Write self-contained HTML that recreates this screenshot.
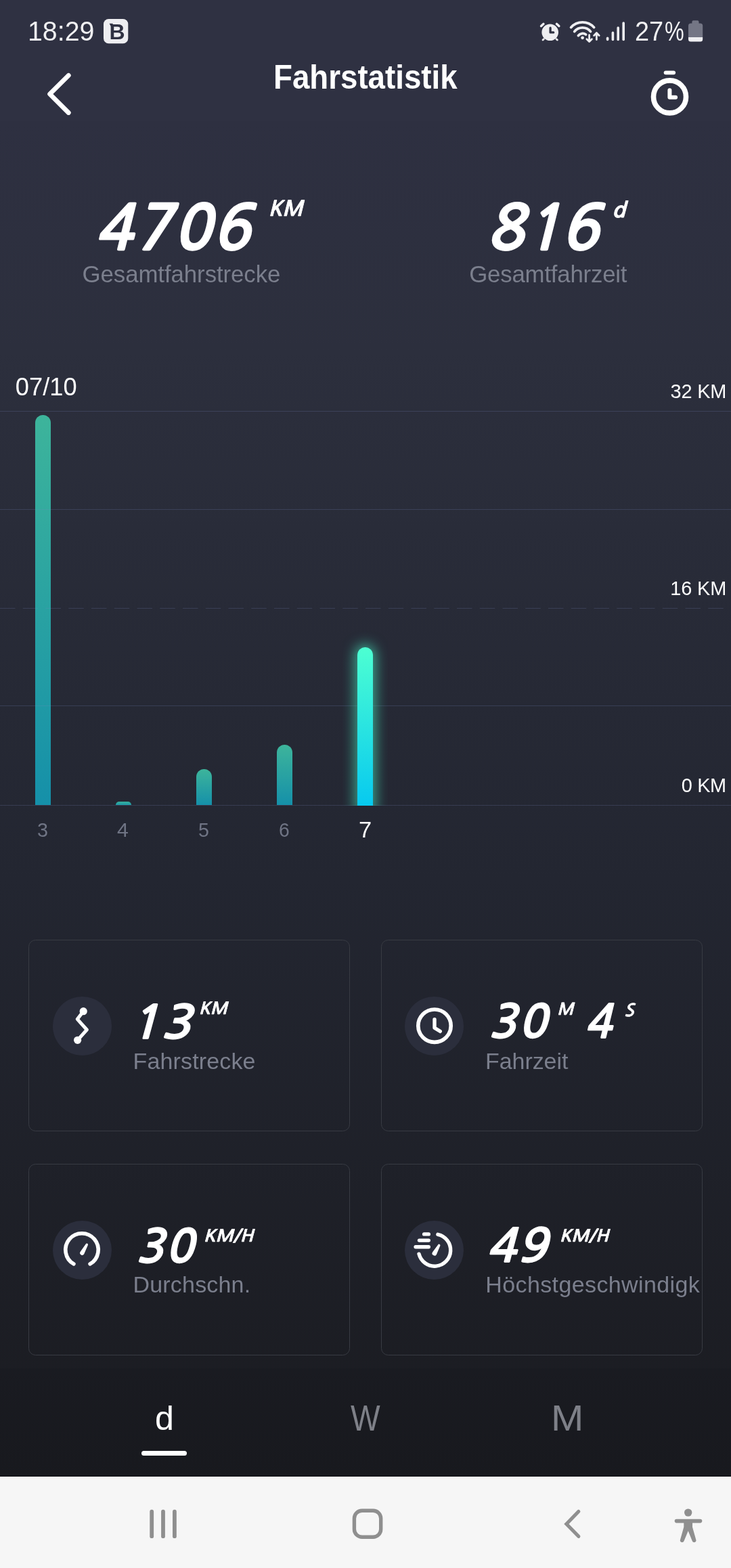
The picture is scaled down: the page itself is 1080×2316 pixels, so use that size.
<!DOCTYPE html>
<html lang="de">
<head>
<meta charset="utf-8">
<title>Fahrstatistik</title>
<style>
html,body{margin:0;padding:0;}
body{width:1080px;height:2316px;position:relative;overflow:hidden;background:#f6f6f6;
  font-family:"Liberation Sans",sans-serif;color:#fff;}
#app{position:absolute;left:0;top:0;width:1080px;height:2181px;
  background:linear-gradient(180deg,#2f3142 0px,#2f3142 178px,#2e3041 178px,rgb(44,47,61) 520px,rgb(35,38,49) 1300px,rgb(26,27,32) 2181px);overflow:hidden;}
.t{position:absolute;white-space:nowrap;line-height:1;margin:0;transform-origin:0 0;}
.abs{position:absolute;}
.num{font-family:"NanumGothic","Liberation Sans",sans-serif;font-weight:bold;font-style:italic;color:#fff;}
.unit{font-family:"NanumGothic","Liberation Sans",sans-serif;font-weight:bold;font-style:italic;color:#fff;}
.lbl{color:#7b7f8d;}
.grid{position:absolute;left:0;width:1080px;height:1px;background:rgba(125,135,195,0.22);}
.ylab{color:#fff;}
.xlab{color:#6f7484;}
.bar{position:absolute;width:23px;border-radius:11.5px 11.5px 0 0;}
.card{position:absolute;box-sizing:border-box;width:475px;height:283px;border:1px solid #383b43;border-radius:10.5px;}
.ico{position:absolute;width:87px;height:87px;border-radius:50%;background:#2b2e3c;}
.tab{color:#7e8088;}
#nav{position:absolute;left:0;top:2181px;width:1080px;height:135px;background:#f6f6f6;}
#icons{position:absolute;left:0;top:0;}
#n1,#n2{-webkit-text-stroke:1.8px #fff;}
#c1n,#c2n,#c2n2,#c3n,#c4n{-webkit-text-stroke:1.3px #fff;}
#u1,#u2{-webkit-text-stroke:0.8px #fff;}
#c1u,#c2u,#c2u2,#c3u,#c4u{-webkit-text-stroke:0.6px #fff;}
#time{left:41.25px;top:26px;font-size:40.38px;transform:scaleX(0.9738);}
#batt{left:937.50px;top:26px;font-size:40.72px;transform:scaleX(0.9321);}
#title{left:404.00px;top:90px;font-size:49.07px;transform:scaleX(0.9311);}
#n1{left:140.50px;top:292px;font-size:91.60px;letter-spacing:2.360px;}
#u1{left:396.50px;top:293px;font-size:31.12px;transform:scaleX(0.9978);}
#l1{left:121.50px;top:388px;font-size:34.82px;letter-spacing:-0.073px;}
#n2{left:718.75px;top:292px;font-size:91.60px;letter-spacing:-0.334px;}
#u2{left:904.00px;top:296px;font-size:30.29px;transform:scaleX(1.0858);}
#l2{left:693.25px;top:388px;font-size:34.82px;letter-spacing:-0.213px;}
#date{left:22.75px;top:554px;font-size:36.22px;letter-spacing:0.046px;}
#y32{left:990.50px;top:564px;font-size:28.93px;letter-spacing:-0.180px;}
#y16{left:990.25px;top:855px;font-size:28.93px;letter-spacing:-0.133px;}
#y0{left:1006.75px;top:1146px;font-size:28.93px;letter-spacing:-0.357px;}
#x3{left:54.75px;top:1212px;font-size:28.59px;transform:scaleX(1.0073);}
#x4{left:173.25px;top:1211px;font-size:29.30px;transform:scaleX(1.0331);}
#x5{left:293.25px;top:1212px;font-size:28.94px;transform:scaleX(0.9877);}
#x6{left:412.25px;top:1212px;font-size:28.59px;transform:scaleX(0.9904);}
#x7{left:529.50px;top:1210px;font-size:32.52px;transform:scaleX(1.0615);}
#c1n{left:191.25px;top:1477px;font-size:67.90px;letter-spacing:2.000px;transform:scaleX(1.0860);}
#c1u{left:294.00px;top:1478px;font-size:24.91px;transform:scaleX(1.0391);}
#c1l{left:196.50px;top:1550px;font-size:34.03px;letter-spacing:0.136px;}
#c2n{left:722.00px;top:1476px;font-size:67.90px;letter-spacing:3.107px;}
#c2u{left:823.00px;top:1479px;font-size:24.20px;transform:scaleX(1.0261);}
#c2n2{left:863.50px;top:1476px;font-size:67.90px;transform:scaleX(0.9636);}
#c2u2{left:922.25px;top:1480px;font-size:25.15px;transform:scaleX(1.0637);}
#c2l{left:717.00px;top:1550px;font-size:34.03px;letter-spacing:-0.065px;}
#c3n{left:201.00px;top:1808px;font-size:67.90px;letter-spacing:2.399px;}
#c3u{left:301.25px;top:1814px;font-size:24.91px;transform:scaleX(1.0831);}
#c3l{left:196.50px;top:1880px;font-size:34.03px;letter-spacing:0.180px;}
#c4n{left:719.25px;top:1807px;font-size:67.90px;letter-spacing:2.000px;transform:scaleX(1.0538);}
#c4u{left:827.25px;top:1814px;font-size:24.91px;transform:scaleX(1.0684);}
#c4l{left:717.25px;top:1880px;font-size:34.03px;letter-spacing:0.381px;width:317.25px;overflow:hidden;padding-bottom:12px;}
#td{left:228.75px;top:2070px;font-size:50.47px;transform:scaleX(0.9947);}
#tw{left:517.75px;top:2068px;font-size:53.60px;transform:scaleX(0.8628);}
#tm{left:813.50px;top:2068px;font-size:53.60px;transform:scaleX(1.0827);}
#battp{left:981.75px;top:26px;font-size:40.72px;transform:scaleX(0.7926);}
</style>
</head>
<body>
<div id="app">

<!-- status bar -->
<div class="t" id="time" style="color:#f0f0f2;">18:29</div>
<div class="t" id="batt" style="color:#f0f0f2;">27</div><div class="t" id="battp" style="color:#f0f0f2;">%</div>

<!-- header -->
<div class="t" id="title" style="font-weight:bold;">Fahrstatistik</div>

<!-- totals -->
<div class="t num" id="n1">4706</div>
<div class="t unit" id="u1">KM</div>
<div class="t lbl" id="l1">Gesamtfahrstrecke</div>
<div class="t num" id="n2">816</div>
<div class="t unit" id="u2">d</div>
<div class="t lbl" id="l2">Gesamtfahrzeit</div>

<!-- chart -->
<div class="t" id="date">07/10</div>
<div class="t ylab" id="y32">32 KM</div>
<div class="t ylab" id="y16">16 KM</div>
<div class="t ylab" id="y0">0 KM</div>

<div class="bar" style="left:52px;top:613px;height:576px;background:linear-gradient(180deg,#3db49b,#1590a9);"></div>
<div class="bar" style="left:171px;top:1184px;height:5px;border-radius:5px 5px 0 0;background:linear-gradient(180deg,#38ad9b,#1d9ba8);"></div>
<div class="bar" style="left:290px;top:1136px;height:53px;background:linear-gradient(180deg,#3db49b,#1590a9);"></div>
<div class="bar" style="left:409px;top:1100px;height:89px;background:linear-gradient(180deg,#3db49b,#1590a9);"></div>
<div class="grid" style="top:607px"></div>
<div class="grid" style="top:752px"></div>
<div class="grid" style="top:1042px"></div>
<div class="grid" style="top:1189px"></div>
<svg class="abs" style="left:0;top:897px" width="1080" height="3"><line x1="0" y1="1.5" x2="1080" y2="1.5" stroke="rgba(125,135,195,0.22)" stroke-width="1" stroke-dasharray="22.5 11.25"/></svg>
<div class="abs" style="left:506px;top:920px;width:67px;height:270px;overflow:hidden;">
  <div class="bar" style="left:22px;top:36px;height:240px;background:linear-gradient(180deg,#4dffd2,#05c8f0);box-shadow:0 0 18px 5px rgba(70,230,190,0.6);"></div>
</div>

<div class="t xlab" id="x3">3</div>
<div class="t xlab" id="x4">4</div>
<div class="t xlab" id="x5">5</div>
<div class="t xlab" id="x6">6</div>
<div class="t xlab" id="x7" style="color:#fff;">7</div>

<!-- cards -->
<div class="card" style="left:42px;top:1388px"></div>
<div class="card" style="left:563px;top:1388px"></div>
<div class="card" style="left:42px;top:1719px"></div>
<div class="card" style="left:563px;top:1719px"></div>

<div class="ico" style="left:77.7px;top:1471.5px"></div>
<div class="ico" style="left:598.2px;top:1471.5px"></div>
<div class="ico" style="left:77.7px;top:1802.5px"></div>
<div class="ico" style="left:598.2px;top:1802.5px"></div>

<div class="t num" id="c1n">13</div>
<div class="t unit" id="c1u">KM</div>
<div class="t lbl" id="c1l">Fahrstrecke</div>

<div class="t num" id="c2n">30</div>
<div class="t unit" id="c2u">M</div>
<div class="t num" id="c2n2">4</div>
<div class="t unit" id="c2u2">S</div>
<div class="t lbl" id="c2l">Fahrzeit</div>

<div class="t num" id="c3n">30</div>
<div class="t unit" id="c3u">KM/H</div>
<div class="t lbl" id="c3l">Durchschn.</div>

<div class="t num" id="c4n">49</div>
<div class="t unit" id="c4u">KM/H</div>
<div class="t lbl" id="c4l">Höchstgeschwindigk<span class="rest">eit</span></div>

<!-- tabs -->
<div class="abs" style="left:0;top:2021px;width:1080px;height:160px;background:rgba(0,0,0,0.05);"></div>
<div class="t tab" id="td" style="color:#fff;">d</div>
<div class="t tab" id="tw">W</div>
<div class="t tab" id="tm">M</div>
<div class="abs" style="left:209px;top:2142.5px;width:67px;height:7.5px;border-radius:4px;background:#fff;"></div>
<div class="abs" style="left:0;top:2180px;width:1080px;height:1px;background:#0f0f13;"></div>
</div>

<div id="nav"></div>
<svg id="icons" width="1080" height="2316" viewBox="0 0 1080 2316">
<!-- status: B badge -->
<rect x="153" y="28" width="36.3" height="36.3" rx="7.5" fill="#eeeef1"/>
<text x="173.1" y="57.7" text-anchor="middle" font-family="Liberation Sans, sans-serif" font-weight="bold" font-size="32" fill="#2f3142">B</text>
<path d="M161.6 34.8h5v3.6h-3z" fill="#2f3142"/>
<!-- alarm -->
<g fill="#eeeef1" stroke="none">
<circle cx="812.7" cy="47.8" r="12.3"/>
</g>
<g stroke="#eeeef1" stroke-width="4" stroke-linecap="round" fill="none">
<path d="M799.5 38.5L803.0 35.3" stroke-width="3.4"/><path d="M822.4 35.3L825.9 38.5" stroke-width="3.4"/>
<path d="M802.0 59.1L803.4 57.7" stroke-width="2.8"/><path d="M822.0 57.7L823.4 59.1" stroke-width="2.8"/>
</g>
<path d="M813.1 41.2V47.9H817.7" stroke="#2f3142" stroke-width="3.3" stroke-linecap="round" stroke-linejoin="round" fill="none"/>
<!-- wifi -->
<g stroke="#eeeef1" stroke-width="3.8" stroke-linecap="round" fill="none">
<path d="M843.6 40.4A22.8 22.8 0 0 1 877.6 40.4"/>
<path d="M848.7 46.6A15.2 15.2 0 0 1 872.5 46.6"/>
<path d="M854.4 52.6A8.2 8.2 0 0 1 865.6 51.0"/>
</g>
<circle cx="860.6" cy="55.8" r="2.4" fill="#eeeef1"/>
<g stroke="#eeeef1" stroke-width="2.8" stroke-linecap="round" stroke-linejoin="round" fill="none">
<path d="M870.6 51.6V61.2M866.8 57.8L870.6 61.6L874.4 57.8"/>
<path d="M881.4 58.6V49M877.6 52.4L881.4 48.6L885.2 52.4"/>
</g>
<!-- signal -->
<g stroke="#eeeef1" stroke-width="3.6" stroke-linecap="round" fill="none">
<path d="M897.6 56.2V58.4"/><path d="M905.4 48.4V58.4"/><path d="M913.2 41V58.4"/><path d="M921.2 34.1V58.4"/>
</g>
<!-- battery -->
<path d="M1022.4 34.4V32.3a2 2 0 0 1 2-2h6.1a2 2 0 0 1 2 2v2.1h2.2a3.5 3.5 0 0 1 3.5 3.5v17H1017v-17a3.5 3.5 0 0 1 3.5-3.5z" fill="#747685"/>
<path d="M1017 54.9h21.2v3a3.5 3.5 0 0 1-3.5 3.5h-14.2a3.5 3.5 0 0 1-3.5-3.5z" fill="#eeeef1"/>
<!-- header back -->
<path d="M101.3 111.3L73.6 138.9L101.3 166.5" stroke="#fff" stroke-width="6.8" stroke-linecap="round" stroke-linejoin="round" fill="none"/>
<!-- header timer -->
<circle cx="989.5" cy="142.9" r="24" stroke="#fff" stroke-width="7.6" fill="none"/>
<rect x="980.7" y="104.4" width="17.4" height="5.8" rx="2.9" fill="#fff"/>
<path d="M989.4 133.3V143.7H998.1" stroke="#fff" stroke-width="6" stroke-linecap="round" stroke-linejoin="round" fill="none"/>
<!-- card icon 1: route -->
<path d="M123.2 1493.7L114.3 1505.3L128.3 1521L114.6 1536.3" stroke="#fff" stroke-width="5" stroke-linecap="round" stroke-linejoin="round" fill="none"/>
<circle cx="123.2" cy="1493.7" r="5.6" fill="#fff"/><circle cx="114.6" cy="1536.3" r="5.6" fill="#fff"/>
<!-- card icon 2: clock -->
<circle cx="642" cy="1515.2" r="24.2" stroke="#fff" stroke-width="5.6" fill="none"/>
<path d="M642 1505.7V1518.2L650.3 1523.3" stroke="#fff" stroke-width="5.4" stroke-linecap="round" stroke-linejoin="round" fill="none"/>
<!-- card icon 3: speedometer -->
<path d="M108.9 1866.9A24.2 24.2 0 1 1 133.1 1866.9" stroke="#fff" stroke-width="5.6" stroke-linecap="round" fill="none"/>
<path d="M118.6 1849.0L126.9 1837.2A1.75 1.75 0 0 1 129.9 1838.9L124.2 1852.2A3.2 3.2 0 0 1 118.6 1849.0Z" fill="#fff"/>
<!-- card icon 4: top speed -->
<path d="M646.9 1823.3A23.7 23.7 0 1 1 619.0 1852.2" stroke="#fff" stroke-width="5.4" stroke-linecap="round" fill="none"/>
<g stroke="#fff" stroke-width="5.4" stroke-linecap="round"><path d="M626.6 1822.9H633.3"/><path d="M619.5 1832.1H633.3"/><path d="M614.1 1841.8H633.3"/></g>
<path d="M639.0 1849.4L647.2 1838.5A1.75 1.75 0 0 1 650.2 1840.3L644.9 1852.9A3.4 3.4 0 0 1 639.0 1849.4Z" fill="#fff"/>
<!-- nav bar -->
<g stroke="#8f8f8f" stroke-width="5.8" stroke-linecap="round" fill="none">
<path d="M224.2 2232.7V2269.2"/><path d="M241 2232.7V2269.2"/><path d="M257.9 2232.7V2269.2"/>
</g>
<rect x="523.4" y="2231.2" width="39.3" height="39" rx="11.5" stroke="#8f8f8f" stroke-width="5.4" fill="none"/>
<path d="M854.8 2232.5L836.9 2251L854.8 2269.3" stroke="#8f8f8f" stroke-width="5.2" stroke-linecap="round" stroke-linejoin="miter" fill="none"/>
<!-- accessibility -->
<g fill="#8f8f8f" stroke="#8f8f8f">
<circle cx="1016.7" cy="2234.1" r="5.7" stroke="none"/>
<path d="M999.5 2246.6H1034.5" stroke-width="5.6" stroke-linecap="round" fill="none"/>
<path d="M1010.3 2247H1023L1023 2255.5L1028.3 2274.2A2.9 2.9 0 0 1 1022.7 2276L1016.7 2261.2L1010.6 2276A2.9 2.9 0 0 1 1005 2274.2L1010.3 2255.5Z" stroke="none"/>
</g>
</svg>

</body>
</html>
